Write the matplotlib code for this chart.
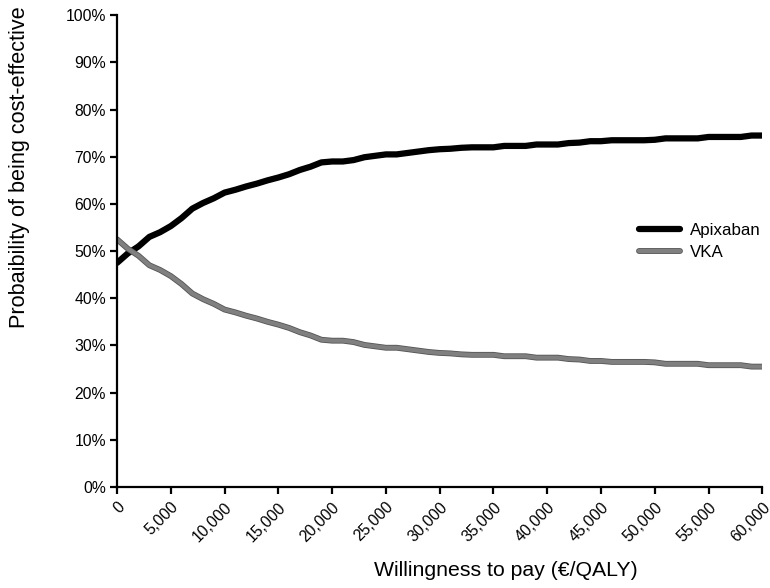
import matplotlib
matplotlib.use("Agg")
import matplotlib.pyplot as plt
import matplotlib.patheffects as pe
from matplotlib.ticker import FuncFormatter, MultipleLocator

plt.rcParams['font.family'] = ['Liberation Sans', 'DejaVu Sans']

# willingness to pay (EUR/QALY), step 1000
wtp = list(range(0, 61000, 1000))

apixaban = [47.5, 49.5, 51.0, 53.0, 54.0, 55.3, 57.0, 59.0, 60.2, 61.2,
            62.4, 63.0, 63.7, 64.3, 65.0, 65.6, 66.3, 67.2, 67.9, 68.8,
            69.0, 69.0, 69.3, 69.9, 70.2, 70.5, 70.5, 70.8, 71.1, 71.4,
            71.6, 71.7, 71.9, 72.0, 72.0, 72.0, 72.3, 72.3, 72.3, 72.6,
            72.6, 72.6, 72.9, 73.0, 73.3, 73.3, 73.5, 73.5, 73.5, 73.5,
            73.6, 73.9, 73.9, 73.9, 73.9, 74.2, 74.2, 74.2, 74.2, 74.5,
            74.5]

vka = [52.5, 50.5, 49.0, 47.0, 46.0, 44.7, 43.0, 41.0, 39.8, 38.8,
       37.6, 37.0, 36.3, 35.7, 35.0, 34.4, 33.7, 32.8, 32.1, 31.2,
       31.0, 31.0, 30.7, 30.1, 29.8, 29.5, 29.5, 29.2, 28.9, 28.6,
       28.4, 28.3, 28.1, 28.0, 28.0, 28.0, 27.7, 27.7, 27.7, 27.4,
       27.4, 27.4, 27.1, 27.0, 26.7, 26.7, 26.5, 26.5, 26.5, 26.5,
       26.4, 26.1, 26.1, 26.1, 26.1, 25.8, 25.8, 25.8, 25.8, 25.5,
       25.5]

fig = plt.figure(figsize=(7.7, 5.88), dpi=100)
ax = fig.add_axes([0.152, 0.172, 0.838, 0.802])

ax.plot(wtp, apixaban, color='black', lw=4.5, solid_capstyle='round', label='Apixaban')
ax.plot(wtp, vka, color='#808080', lw=3.0, solid_capstyle='round', label='VKA',
        path_effects=[pe.Stroke(linewidth=4.2, foreground='#555555'), pe.Normal()])

ax.set_xlim(0, 60000)
ax.set_ylim(0, 100)
ax.xaxis.set_major_locator(MultipleLocator(5000))
ax.yaxis.set_major_locator(MultipleLocator(10))
ax.xaxis.set_major_formatter(FuncFormatter(lambda v, p: f"{int(v):,}"))
ax.yaxis.set_major_formatter(FuncFormatter(lambda v, p: f"{int(v)}%"))

for s in ['top', 'right']:
    ax.spines[s].set_visible(False)
for s in ['left', 'bottom']:
    ax.spines[s].set_linewidth(1.6)

ax.tick_params(axis='both', direction='out', length=5, width=1.6, labelsize=11.3, pad=3)
ax.tick_params(axis='x', pad=4)
for lbl in ax.get_xticklabels():
    lbl.set_rotation(45)
    lbl.set_ha('right')
    lbl.set_rotation_mode('anchor')

# axis titles sit off-centre in the original
ax.set_xlabel('Willingness to pay (€/QALY)', fontsize=15.3)
ax.xaxis.set_label_coords(0.602, -0.158)
ax.set_ylabel('Probaibility of being cost-effective', fontsize=15.6)
ax.yaxis.set_label_coords(-0.135, 0.678)

ax.legend(loc='center left', bbox_to_anchor=(0.786, 0.52), frameon=False,
          fontsize=12.2, handlelength=2.4, labelspacing=0.4, handletextpad=0.6)

fig.savefig('out.png', dpi=100)
